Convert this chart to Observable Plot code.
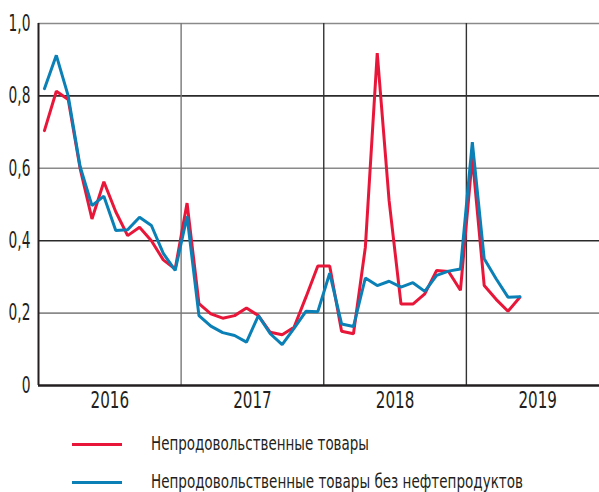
<!DOCTYPE html>
<html><head><meta charset="utf-8">
<script src="https://cdn.jsdelivr.net/npm/d3@7"></script>
<script src="https://cdn.jsdelivr.net/npm/@observablehq/plot@0.6"></script>
<style>
body{margin:0;background:#fff;font-family:"DejaVu Sans",sans-serif;color:#231f20;}
#wrap{position:relative;width:599px;height:492px;overflow:hidden;}
.leg{position:absolute;left:0;width:599px;height:20px;}
.leg .ln{position:absolute;left:72px;width:50px;height:3px;top:9px;}
.leg .tx{position:absolute;left:151px;top:-1px;font-size:20px;line-height:20px;white-space:nowrap;transform-origin:0 50%;}
</style></head>
<body><div id="wrap"><div id="chart"></div></div>
<script>
const startYear = 2016;
const years = ["2016", "2017", "2018", "2019"];
const yTicks = [0, 0.2, 0.4, 0.6, 0.8, 1.0];
const seriesNames = ["Непродовольственные товары", "Непродовольственные товары без нефтепродуктов"];
const seriesColors = ["#e8173a", "#0a80b6"];
// monthly values, Jan 2016 – May 2019
const nonFood = [0.704,0.813,0.79,0.60,0.46,0.563,0.48,0.414,0.437,0.40,0.347,0.322,
  0.504,0.226,0.198,0.186,0.193,0.214,0.193,0.147,0.14,0.161,0.244,0.33,
  0.33,0.15,0.143,0.382,0.918,0.51,0.225,0.225,0.253,0.318,0.315,0.263,
  0.63,0.276,0.238,0.205,0.244];
const nonFoodExOil = [0.82,0.912,0.80,0.605,0.497,0.523,0.428,0.43,0.465,0.442,0.365,0.318,
  0.467,0.193,0.164,0.146,0.138,0.12,0.193,0.143,0.113,0.158,0.205,0.204,
  0.31,0.17,0.163,0.297,0.276,0.288,0.272,0.284,0.26,0.304,0.316,0.322,
  0.672,0.35,0.295,0.244,0.245];

const toRows = (arr, s) => arr.map((v, i) => ({m: i + 0.5, v, s}));
const rows = [...toRows(nonFood, seriesNames[0]), ...toRows(nonFoodExOil, seriesNames[1])];
const fmt = v => v === 0 ? "0" : v.toFixed(1).replace(".", ",");
const yearMid = years.map((y, k) => 12 * k + 6);
const dividers = [12, 24, 36];

const chart = Plot.plot({
  width: 599, height: 420,
  marginLeft: 38, marginRight: 0, marginTop: 23, marginBottom: 35,
  style: {fontFamily: '"DejaVu Sans",sans-serif', color: "#231f20", background: "#fff", overflow: "visible"},
  x: {type: "linear", domain: [0, 47.2]},
  y: {domain: [0, 1]},
  color: {domain: seriesNames, range: seriesColors},
  marks: [
    Plot.ruleY(yTicks.filter(d => d > 0), {stroke: d => (Math.round(d * 10) % 4 === 2 ? "#8a8a8a" : "#2a2a2a"), strokeWidth: 1.6}),
    Plot.ruleX(dividers, {y1: 0, y2: 1, stroke: d => d === 12 ? "#777" : "#333", strokeWidth: 1.4}),
    Plot.line(rows.filter(d => d.s === seriesNames[0]), {x: "m", y: "v", stroke: seriesColors[0], strokeWidth: 3, strokeLinejoin: "miter"}),
    Plot.line(rows.filter(d => d.s === seriesNames[1]), {x: "m", y: "v", stroke: seriesColors[1], strokeWidth: 3, strokeLinejoin: "miter"}),
    Plot.ruleY([0], {stroke: "#231f20", strokeWidth: 2.5}),
    Plot.ruleX([0], {y1: 0, y2: 1, stroke: "#231f20", strokeWidth: 2}),
    Plot.axisY({ticks: yTicks, tickFormat: fmt, tickSize: 0, tickPadding: 8, fontSize: 23, label: null}),
    Plot.axisX({ticks: yearMid, tickFormat: (d, i) => years[i], tickSize: 0, tickPadding: 6, fontSize: 23, label: null})
  ]
});
document.getElementById("chart").appendChild(chart);

// condense axis text to match the narrow typeface of the original
function condense(sel, k) {
  chart.querySelectorAll(sel).forEach(t => {
    const L = t.getComputedTextLength();
    t.setAttribute("textLength", (L * k).toFixed(1));
    t.setAttribute("lengthAdjust", "spacingAndGlyphs");
  });
}
condense('g[aria-label="y-axis tick label"] text', 0.6);
condense('g[aria-label="x-axis tick label"] text', 0.66);

const wrap = document.getElementById("wrap");
const legendWidths = [218, 372];
const legendTops = [434, 472];
seriesNames.forEach((n, i) => {
  const d = document.createElement("div");
  d.className = "leg";
  d.style.top = legendTops[i] + "px";
  d.innerHTML = `<div class="ln" style="background:${seriesColors[i]}"></div><div class="tx">${n}</div>`;
  wrap.appendChild(d);
  const tx = d.querySelector(".tx");
  const w = tx.getBoundingClientRect().width;
  tx.style.transform = `scaleX(${legendWidths[i] / w})`;
});
</script></body></html>
